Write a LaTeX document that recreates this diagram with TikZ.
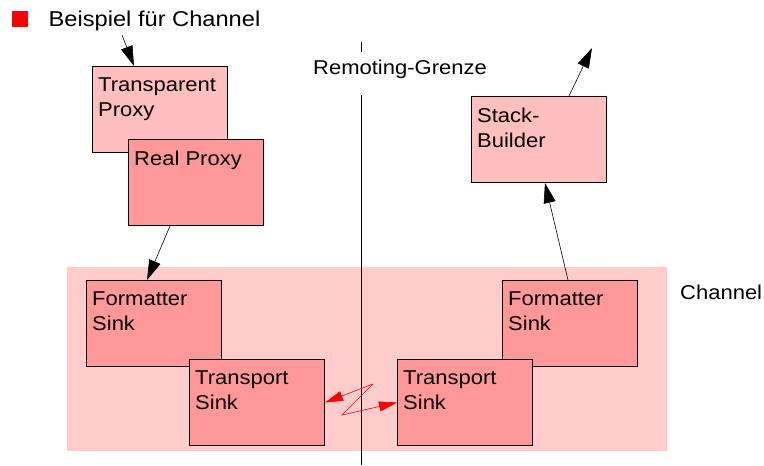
\documentclass[tikz,border=0pt]{standalone}
\usepackage{fontspec}
\setmainfont{Liberation Sans}[FakeStretch=1.1]
\usetikzlibrary{arrows.meta}
\definecolor{hellrosa}{RGB}{255,191,191}
\definecolor{rosa}{RGB}{255,153,153}
\definecolor{kanal}{RGB}{255,204,204}
\tikzset{
  box/.style={draw, line width=1pt, anchor=north west, minimum width=135pt, minimum height=86pt, inner sep=0pt},
  boxtext/.style={label={[anchor=north west, align=left, inner sep=0pt, xshift=6pt, yshift=-11.5pt]north west:#1}},
  pfeil/.style={-{Triangle[length=20pt,width=12pt]}, line width=0.6pt},
  blitz/.style={red, line width=0.6pt, -{Triangle[length=18pt,width=10pt]}}
}
\begin{document}
\begin{tikzpicture}[x=1pt, y=-1pt, font=\fontsize{20}{25}\selectfont]
            \useasboundingbox (0,0) rectangle (764,466);
            \coordinate (einstieg) at (122,35);
            \coordinate (ausgang) at (592,48);
            \coordinate (grenzeoben) at (361,42);
            \coordinate (grenzeunten) at (361,465);
            \coordinate (z1) at (373,384);
            \coordinate (z2) at (342,415);

            % Legende
            \node[fill=red, minimum size=16pt, inner sep=0pt, anchor=north west] (legende) at (12,11) {};
            \node[anchor=base west, inner sep=0pt, font=\fontsize{21.5}{25}\selectfont] (legtext) at (48.5,26) {Beispiel für Channel};

            % Channel
            \fill[kanal] (67,267) rectangle (667,451);
            \node[anchor=base west, inner sep=0pt] (channel) at (680,299) {Channel};

            \draw[line width=0.7pt] (grenzeoben) -- (grenzeunten);
            \node[fill=white, anchor=base west, inner sep=0pt, text height=22pt, text depth=21pt] (grenze) at (313,74) {Remoting-Grenze};

            \node[box, fill=hellrosa, boxtext={Transparent\\Proxy}] (tp) at (92,66) {};
            \node[box, fill=rosa, boxtext={Real Proxy}] (rp) at (128,139) {};
            \node[box, fill=rosa, boxtext={Formatter\\Sink}] (fsl) at (86,280) {};
            \node[box, fill=rosa, boxtext={Transport\\Sink}] (tsl) at (189,359) {};
            \node[box, fill=rosa, boxtext={Formatter\\Sink}] (fsr) at (502,280) {};
            \node[box, fill=rosa, boxtext={Transport\\Sink}] (tsr) at (397,359) {};
            \node[box, fill=hellrosa, boxtext={Stack-\\Builder}] (sb) at (471,96) {};

            \draw[pfeil] (einstieg) -- ([xshift=42pt]tp.north west);
            \draw[pfeil] ([xshift=42pt]rp.south west) -- ([xshift=61pt]fsl.north west);
            \draw[pfeil] ([xshift=66pt]fsr.north west) -- ([xshift=74pt]sb.south west);
            \draw[pfeil] ([xshift=98pt]sb.north west) -- (ausgang);

            \draw[blitz] (z1) -- (tsl.east);
            \draw[blitz] (z1) -- (z2) -- (tsr.west);
        \end{tikzpicture}
\end{document}
